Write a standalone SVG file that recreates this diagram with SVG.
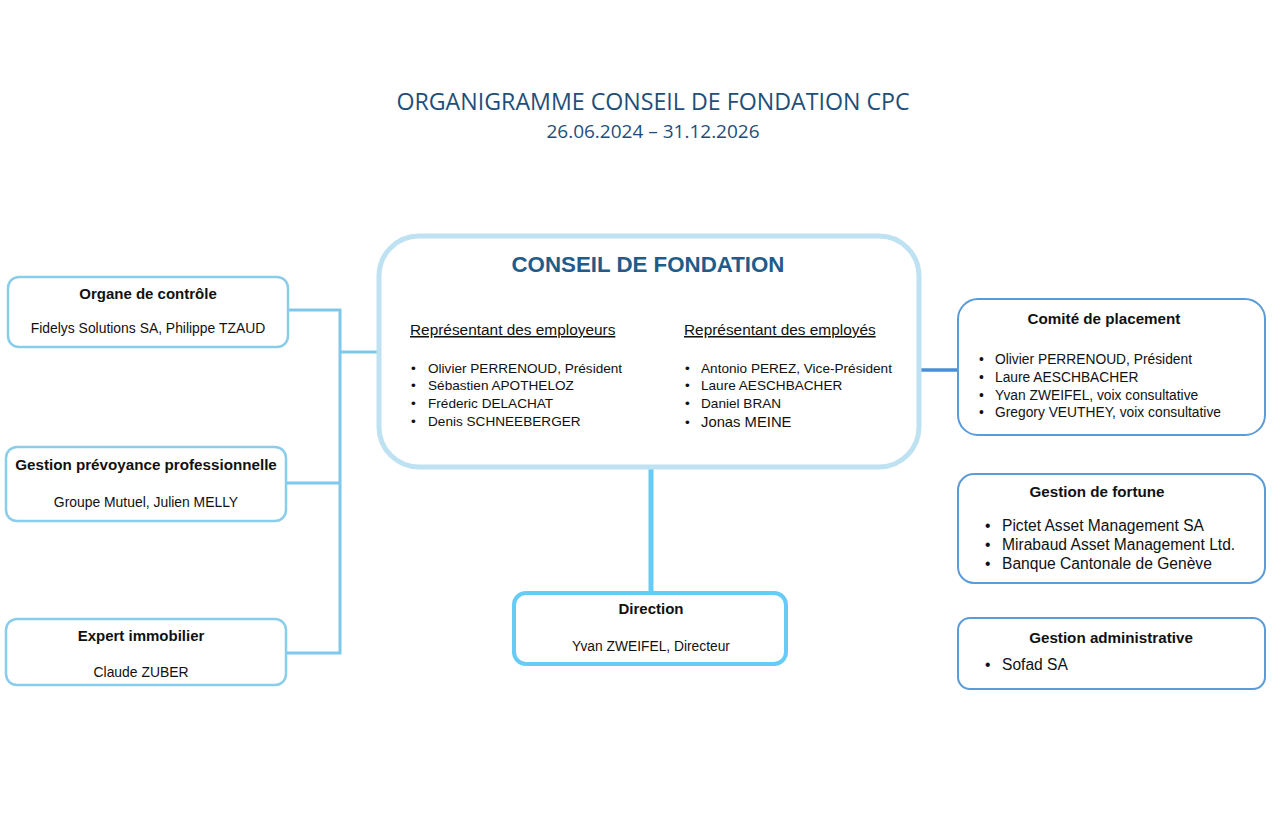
<svg xmlns="http://www.w3.org/2000/svg" width="1275" height="830" viewBox="0 0 1275 830">
<style>
.t{font-family:"Liberation Sans",Arial,sans-serif;fill:#111}
.b{font-weight:bold}
.h{font-family:"Open Sans","Noto Sans",sans-serif;fill:#1F4E79}
.lb{fill:#fff;stroke:#8ACDEB;stroke-width:2.5}
.rb{fill:#fff;stroke:#5A9BD8;stroke-width:2}
.c{fill:none;stroke:#80C8EA;stroke-width:3}
</style>
<rect width="1275" height="830" fill="#fff"/>
<text class="h" x="653" y="110" text-anchor="middle" font-size="23.2">ORGANIGRAMME CONSEIL DE FONDATION CPC</text>
<text class="h" x="653" y="138" text-anchor="middle" font-size="19">26.06.2024 – 31.12.2026</text>

<g id="connectors">
<polyline class="c" points="288,310 340,310 340,653 286,653"/>
<line class="c" x1="286" y1="483" x2="340" y2="483"/>
<line class="c" x1="340" y1="352" x2="378" y2="352"/>
<line x1="920" y1="370" x2="958" y2="370" stroke="#4A8FD6" stroke-width="3.5"/>
<line x1="651" y1="468" x2="651" y2="593" stroke="#66CCF5" stroke-width="5"/>
</g>

<g id="conseil">
<rect x="379" y="236" width="540" height="231" rx="40" fill="#fff" stroke="#BFE2F2" stroke-width="5"/>
<text class="t b" x="648" y="272" text-anchor="middle" font-size="22.3" style="fill:#1F5C8A">CONSEIL DE FONDATION</text>
<text class="t" x="410" y="335" font-size="15.4" text-decoration="underline">Représentant des employeurs</text>
<text class="t" x="684" y="335" font-size="15.4" text-decoration="underline">Représentant des employés</text>
<g font-size="13.6">
<text class="t" x="411" y="373">•</text><text class="t" x="428" y="373">Olivier PERRENOUD, Président</text>
<text class="t" x="411" y="390">•</text><text class="t" x="428" y="390">Sébastien APOTHELOZ</text>
<text class="t" x="411" y="408">•</text><text class="t" x="428" y="408">Fréderic DELACHAT</text>
<text class="t" x="411" y="426">•</text><text class="t" x="428" y="426">Denis SCHNEEBERGER</text>
<text class="t" x="685" y="373">•</text><text class="t" x="701" y="373">Antonio PEREZ, Vice-Président</text>
<text class="t" x="685" y="390">•</text><text class="t" x="701" y="390">Laure AESCHBACHER</text>
<text class="t" x="685" y="408">•</text><text class="t" x="701" y="408">Daniel BRAN</text>
<text class="t" x="685" y="427">•</text><text class="t" x="701" y="427" font-size="14.8">Jonas MEINE</text>
</g>
</g>

<g id="organe">
<rect class="lb" x="8" y="277" width="280" height="70" rx="11"/>
<text class="t b" x="148" y="299" text-anchor="middle" font-size="15">Organe de contrôle</text>
<text class="t" x="148" y="333" text-anchor="middle" font-size="13.9">Fidelys Solutions SA, Philippe TZAUD</text>
</g>
<g id="gestion-prevoyance">
<rect class="lb" x="6" y="447" width="280" height="74" rx="11"/>
<text class="t b" x="146" y="470" text-anchor="middle" font-size="15.2">Gestion prévoyance professionnelle</text>
<text class="t" x="146" y="507" text-anchor="middle" font-size="13.9">Groupe Mutuel, Julien MELLY</text>
</g>
<g id="expert">
<rect class="lb" x="6" y="619" width="280" height="66" rx="11"/>
<text class="t b" x="141" y="641" text-anchor="middle" font-size="15">Expert immobilier</text>
<text class="t" x="141" y="677" text-anchor="middle" font-size="13.9">Claude ZUBER</text>
</g>

<g id="direction">
<rect x="514" y="593" width="272" height="71" rx="12" fill="#fff" stroke="#66CCF5" stroke-width="4"/>
<text class="t b" x="651" y="614" text-anchor="middle" font-size="15">Direction</text>
<text class="t" x="651" y="651" text-anchor="middle" font-size="13.8">Yvan ZWEIFEL, Directeur</text>
</g>

<g id="comite">
<rect class="rb" x="958" y="299" width="307" height="136" rx="20"/>
<text class="t b" x="1104" y="324" text-anchor="middle" font-size="15.2">Comité de placement</text>
<g font-size="13.8">
<text class="t" x="979" y="364">•</text><text class="t" x="995" y="364">Olivier PERRENOUD, Président</text>
<text class="t" x="979" y="382">•</text><text class="t" x="995" y="382">Laure AESCHBACHER</text>
<text class="t" x="979" y="400">•</text><text class="t" x="995" y="400">Yvan ZWEIFEL, voix consultative</text>
<text class="t" x="979" y="417">•</text><text class="t" x="995" y="417">Gregory VEUTHEY, voix consultative</text>
</g>
</g>
<g id="fortune">
<rect class="rb" x="958" y="474" width="307" height="109" rx="16"/>
<text class="t b" x="1097" y="497" text-anchor="middle" font-size="15.2">Gestion de fortune</text>
<g font-size="15.6">
<text class="t" x="985" y="531">•</text><text class="t" x="1002" y="531">Pictet Asset Management SA</text>
<text class="t" x="985" y="550">•</text><text class="t" x="1002" y="550">Mirabaud Asset Management Ltd.</text>
<text class="t" x="985" y="569">•</text><text class="t" x="1002" y="569">Banque Cantonale de Genève</text>
</g>
</g>
<g id="administrative">
<rect class="rb" x="958" y="618" width="307" height="71" rx="12"/>
<text class="t b" x="1111" y="643" text-anchor="middle" font-size="15.2">Gestion administrative</text>
<text class="t" x="985" y="670" font-size="15.6">•</text><text class="t" x="1002" y="670" font-size="15.6">Sofad SA</text>
</g>
</svg>
